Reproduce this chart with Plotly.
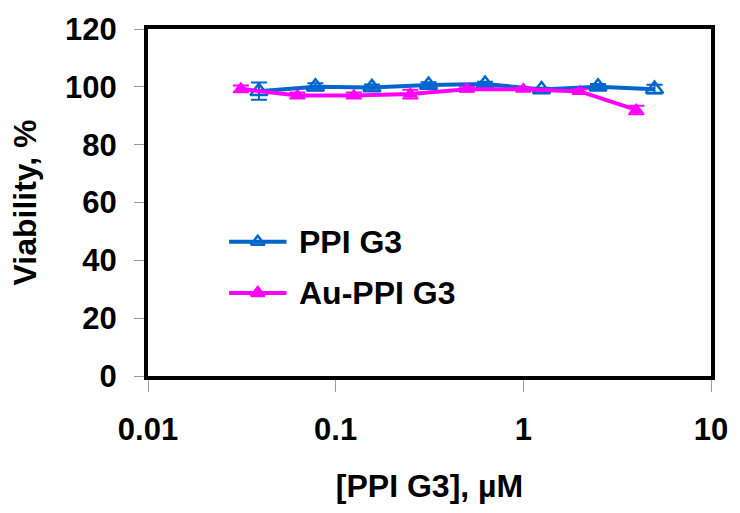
import plotly.graph_objects as go

ppi_conc = [0.039, 0.078, 0.156, 0.3125, 0.625, 1.25, 2.5, 5.0]
ppi_viab = [98.5, 100.0, 99.8, 100.6, 101.0, 99.1, 100.0, 99.2]
ppi_err = [3.0, 1.2, 1.0, 1.0, 0.8, 0.6, 1.0, 1.5]

au_conc = [0.03125, 0.0625, 0.125, 0.25, 0.5, 1.0, 2.0, 4.0]
au_viab = [99.3, 97.0, 97.0, 97.5, 99.2, 99.2, 98.4, 92.0]
au_err = [1.2, 1.0, 1.0, 1.5, 0.8, 0.6, 0.8, 1.5]

series_names = ["PPI G3", "Au-PPI G3"]
x_ticks = [0.01, 0.1, 1, 10]
x_tick_labels = ["0.01", "0.1", "1", "10"]
y_ticks = [0, 20, 40, 60, 80, 100, 120]

BLUE = "#0066CC"
MAG = "#FF00FF"
FONT = "Liberation Sans, Arial, sans-serif"

fig = go.Figure()
fig.add_trace(go.Scatter(
    x=ppi_conc, y=ppi_viab, name=series_names[0], mode="lines+markers",
    line=dict(color=BLUE, width=4),
    marker=dict(symbol="triangle-up-open", size=15, color=BLUE, line=dict(width=2.5, color=BLUE)),
    error_y=dict(type="data", array=ppi_err, color=BLUE, thickness=2, width=8),
    showlegend=False,
))
fig.add_trace(go.Scatter(
    x=au_conc, y=au_viab, name=series_names[1], mode="lines+markers",
    line=dict(color=MAG, width=4),
    marker=dict(symbol="triangle-up", size=14, color=MAG),
    error_y=dict(type="data", array=au_err, color=MAG, thickness=2, width=8),
    showlegend=False,
))

# manual legend (keys drawn on an invisible overlay axis in 0..1 plot-fraction units)
legend_rows = [(0.387, BLUE, "triangle-up-open", series_names[0]),
               (0.239, MAG, "triangle-up", series_names[1])]
for ly, col, sym, label in legend_rows:
    fig.add_trace(go.Scatter(x=[0.144, 0.246], y=[ly, ly], mode="lines",
                             line=dict(color=col, width=4), xaxis="x2", yaxis="y2",
                             showlegend=False, hoverinfo="skip", cliponaxis=False))
    fig.add_trace(go.Scatter(x=[0.195], y=[ly], mode="markers",
                             marker=dict(symbol=sym, size=12, color=col, line=dict(width=2.5, color=col)),
                             xaxis="x2", yaxis="y2", showlegend=False, hoverinfo="skip",
                             cliponaxis=False))
    fig.add_annotation(x=0.265, y=ly, xref="x2", yref="y2", text=label, showarrow=False,
                       xanchor="left", yanchor="middle",
                       font=dict(family=FONT, size=32, color="black", weight="bold"))

fig.update_layout(
    width=740, height=513,
    margin=dict(l=148, r=23, t=25, b=137),
    paper_bgcolor="white", plot_bgcolor="white",
    font=dict(family=FONT, size=31, color="black", weight="bold"),
    showlegend=False,
    xaxis=dict(
        type="log", range=[-2, 1], tickvals=x_ticks, ticktext=x_tick_labels,
        showgrid=False, zeroline=False,
        showline=True, linecolor="black", linewidth=4, mirror=True,
        ticks="outside", ticklen=12, tickcolor="#999999", tickwidth=1,
        ticklabelstandoff=11,
        tickfont=dict(size=31, weight="bold"),
        title=dict(text="[PPI G3], µM", font=dict(size=32, weight="bold"), standoff=29),
    ),
    yaxis=dict(
        range=[0, 120], tickvals=y_ticks,
        showgrid=False, zeroline=False,
        showline=True, linecolor="black", linewidth=4, mirror=True,
        ticks="outside", ticklen=10, tickcolor="#999999", tickwidth=1,
        ticklabelstandoff=11,
        tickfont=dict(size=31, weight="bold"),
        title=dict(text="Viability, %", font=dict(size=32, weight="bold"), standoff=20),
    ),
    xaxis2=dict(overlaying="x", range=[0, 1], visible=False, fixedrange=True),
    yaxis2=dict(overlaying="y", range=[0, 1], visible=False, fixedrange=True),
)

fig.write_html("out.html", config={"displayModeBar": False},
               post_script="document.body.style.margin='0px';")
